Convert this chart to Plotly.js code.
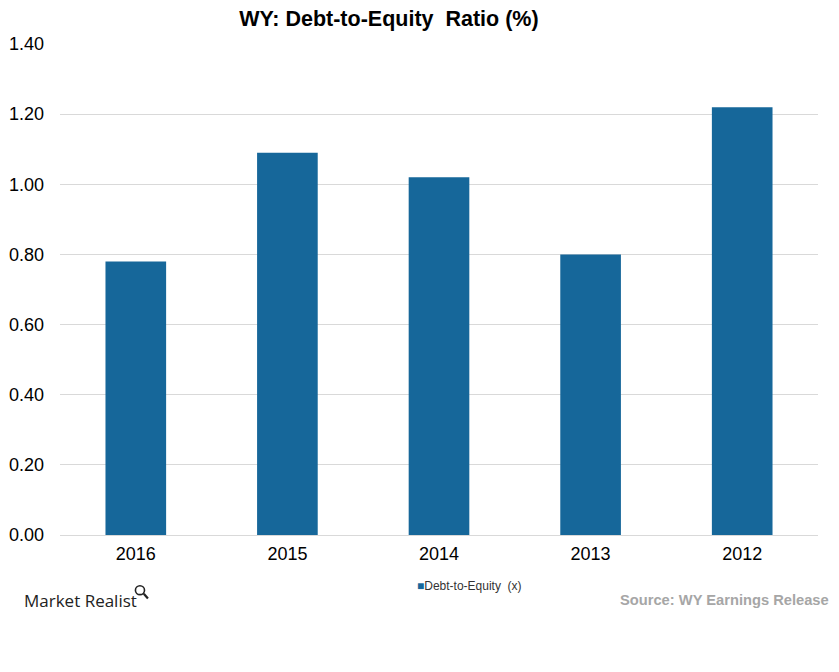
<!DOCTYPE html>
<html>
<head>
<meta charset="utf-8">
<script src="https://cdn.plot.ly/plotly-3.0.1.min.js"></script>
<style>html,body{margin:0;padding:0;background:#fff;}#chart{width:839px;height:672px;}</style>
</head>
<body>
<div id="chart"></div>
<script>
const years = ["2016", "2015", "2014", "2013", "2012"];
const debtToEquity = [0.78, 1.09, 1.02, 0.80, 1.22];
const seriesName = "Debt-to-Equity  (x)";
const barColor = "#16679a";

const trace = {
  type: "bar",
  x: years,
  y: debtToEquity,
  name: seriesName,
  marker: {color: barColor},
  hoverinfo: "x+y",
  showlegend: false
};

const layout = {
  width: 839,
  height: 672,
  margin: {l: 60, r: 21, t: 44, b: 137},
  paper_bgcolor: "#ffffff",
  plot_bgcolor: "#ffffff",
  bargap: 0.6,
  title: {
    text: "<b>WY: Debt-to-Equity  Ratio (%)</b>",
    x: 0.4636, xanchor: "center", y: 0.972, yanchor: "middle",
    font: {family: "Liberation Sans, Arial, sans-serif", size: 21.5, color: "#000"}
  },
  xaxis: {
    type: "category",
    showgrid: false,
    showline: false,
    zeroline: false,
    ticks: "",
    tickfont: {family: "Liberation Sans, Arial, sans-serif", size: 18, color: "#000"},
    ticklabelstandoff: 6
  },
  yaxis: {
    range: [0, 1.4],
    dtick: 0.2,
    tick0: 0,
    tickformat: ".2f",
    showgrid: true,
    gridcolor: "#d9d9d9",
    gridwidth: 1,
    zeroline: true,
    zerolinecolor: "#d9d9d9",
    zerolinewidth: 1,
    showline: false,
    ticks: "",
    tickfont: {family: "Liberation Sans, Arial, sans-serif", size: 18, color: "#000"},
    ticklabelstandoff: 15
  },
  showlegend: false,
  annotations: [
    {
      text: "<span style='color:" + barColor + "'>■</span>" + seriesName,
      xref: "paper", yref: "paper",
      x: 0.540, xanchor: "center",
      y: -0.104, yanchor: "middle",
      showarrow: false,
      font: {family: "Liberation Sans, Arial, sans-serif", size: 12, color: "#333"}
    },
    {
      text: "<b>Source: WY Earnings Release</b>",
      xref: "paper", yref: "paper",
      x: 1.017, xanchor: "right",
      y: -0.133, yanchor: "middle",
      showarrow: false,
      font: {family: "Liberation Sans, Arial, sans-serif", size: 14.7, color: "#a6a6a6"}
    },
    {
      text: "Market Realist",
      xref: "paper", yref: "paper",
      x: -0.05, xanchor: "left",
      y: -0.133, yanchor: "middle",
      showarrow: false,
      font: {family: "Open Sans, Liberation Sans, sans-serif", size: 17, color: "#222"}
    }
  ],
  shapes: [
    {type: "circle", xref: "paper", yref: "paper",
     x0: 0.0995, x1: 0.1115, y0: -0.1035, y1: -0.1215,
     line: {color: "#222", width: 1.6}},
    {type: "line", xref: "paper", yref: "paper",
     x0: 0.1105, x1: 0.1160, y0: -0.1195, y1: -0.1295,
     line: {color: "#222", width: 2.2}}
  ]
};

Plotly.newPlot("chart", [trace], layout, {displayModeBar: false, staticPlot: true});
</script>
</body>
</html>
